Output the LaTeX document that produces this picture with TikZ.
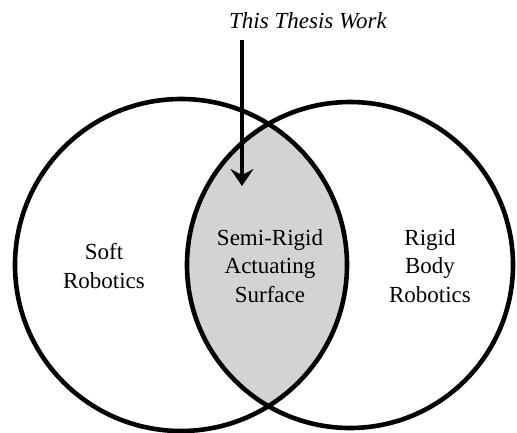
\documentclass[tikz,border=0pt]{standalone}
\usepackage{fontspec}
\setmainfont{Liberation Serif}
\usetikzlibrary{arrows.meta}
\definecolor{lensgray}{RGB}{211,211,211}
\begin{document}
\begin{tikzpicture}[x=1pt,y=-1pt,
  ring/.style={line width=4.6pt,draw=black},
  lbl/.style={align=center,font=\fontsize{23}{28.5}\selectfont,inner sep=0pt},
  pointer/.style={line width=4.4pt,-{Stealth[length=17pt,width=23pt,inset=6pt]}}]
\useasboundingbox (0,0) rectangle (517,432);
\coordinate (cl) at (181,265);
\coordinate (cr) at (350,265);
\begin{scope}
  \clip (cl) circle (166pt);
  \fill[lensgray] (cr) circle (163pt);
\end{scope}
\draw[ring] (cl) circle (166pt);
\draw[ring] (cr) circle (163pt);
\node[font=\fontsize{23}{28}\selectfont\itshape,inner sep=0pt,anchor=base] (title) at (308,28) {This Thesis Work};
\coordinate (as) at (242,40);
\coordinate (ae) at (242,186);
\draw[pointer] (as) -- (ae);
\node[lbl] (soft) at (104,266) {Soft\\Robotics};
\node[lbl] (semi) at (270,266) {Semi-Rigid\\Actuating\\Surface};
\node[lbl] (rigid) at (430,266) {Rigid\\Body\\Robotics};
\end{tikzpicture}
\end{document}
